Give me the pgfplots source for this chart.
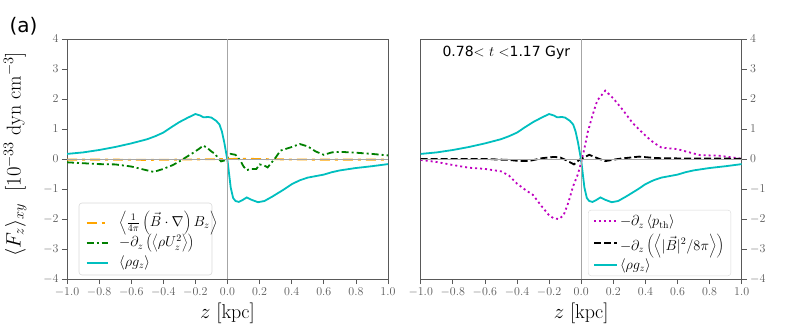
\documentclass[border=0pt]{standalone}
\usepackage{fontspec}
\usepackage{pgfplots}
\pgfplotsset{compat=1.18}
\newfontfamily\dejavu{DejaVu Sans}
\definecolor{mcyan}{rgb}{0,0.75,0.75}
\definecolor{morange}{rgb}{1,0.647,0}
\definecolor{mgreen}{rgb}{0,0.5,0}
\definecolor{mmag}{rgb}{0.75,0,0.75}
\definecolor{axgray}{rgb}{0.35,0.35,0.35}
\tikzset{
  sOr/.style={color=morange, line width=1.8pt, dash pattern=on 10pt off 5pt on 3pt off 5pt},
  sGr/.style={color=mgreen, line width=1.8pt, dash pattern=on 7pt off 3pt on 2pt off 3pt},
  sCy/.style={color=mcyan, solid, line width=1.8pt},
  sMa/.style={color=mmag, line width=1.8pt, dash pattern=on 2pt off 3pt},
  sBk/.style={color=black, line width=1.8pt, dash pattern=on 7pt off 3pt},
}
\pgfplotsset{
  legend image code/.code={\draw[#1] (0pt,0pt) -- (23pt,0pt);},
  myaxis/.style={
    scale only axis, width=321pt, height=240pt,
    xmin=-1, xmax=1, ymin=-4, ymax=4,
    xtick={-1,-0.8,...,1.01}, ytick={-4,-3,...,4},
    xticklabel style={/pgf/number format/.cd,fixed,fixed zerofill,precision=1},
    yticklabel style={/pgf/number format/.cd,int detect},
    tick label style={font=\fontsize{11.5}{13}\selectfont, text=axgray},
    axis line style={axgray, line width=0.8pt},
    major tick style={axgray, line width=0.8pt},
    major tick length=5pt, tick align=outside,
    xtick pos=bottom,
    label style={font=\fontsize{20}{24}\selectfont},
    xlabel={$z\;[\mathrm{kpc}]$},
    legend cell align=left,
    legend style={font=\fontsize{14}{17}\selectfont, draw=black!15, rounded corners=3pt, fill=white, row sep=3pt, inner xsep=5pt, inner ysep=3pt,
      /tikz/every even column/.append style={column sep=8pt}},
  },
}
\begin{document}
\begin{tikzpicture}
\path[use as bounding box] (0pt,0pt) rectangle (789pt,325pt);
\begin{axis}[myaxis, at={(67pt,46pt)}, anchor=south west, ytick pos=left,
  ylabel={$\langle F_z\rangle_{xy}\ \ [10^{-33}\ \mathrm{dyn}\ \mathrm{cm}^{-3}]$},
  ylabel style={at={(axis description cs:-0.115,0.52)}}]
\addplot[sOr] coordinates {
(-1.0,-0.02) (-0.7,-0.02) (-0.5,-0.03) (-0.3,-0.02) (-0.15,-0.01) (0.0,0.0) (0.1,0.01) (0.3,-0.01) (0.5,-0.02) (0.8,-0.02) (1.0,-0.02)};
\addplot[sGr] coordinates {
(-1.0,-0.11) (-0.9,-0.14) (-0.8,-0.17) (-0.7,-0.18) (-0.6,-0.25) (-0.5,-0.38) (-0.46,-0.43) (-0.4,-0.33) (-0.34,-0.20) (-0.3,-0.08) (-0.27,0.02) (-0.21,0.22) (-0.18,0.33) (-0.15,0.45) (-0.12,0.34) (-0.10,0.25) (-0.08,0.18) (-0.065,0.08) (-0.04,-0.08) (-0.02,-0.05) (0.0,0.05) (0.02,0.17) (0.05,0.14) (0.08,-0.05) (0.1,-0.25) (0.12,-0.37) (0.15,-0.33) (0.18,-0.33) (0.2,-0.18) (0.23,-0.22) (0.25,-0.28) (0.3,0.05) (0.33,0.28) (0.4,0.40) (0.45,0.50) (0.5,0.42) (0.55,0.25) (0.6,0.14) (0.65,0.22) (0.7,0.24) (0.8,0.21) (0.9,0.17) (1.0,0.12)};
\addplot[sCy] coordinates {
(-1.0,0.17) (-0.9,0.22) (-0.8,0.30) (-0.7,0.40) (-0.6,0.52) (-0.5,0.66) (-0.45,0.76) (-0.4,0.88) (-0.35,1.06) (-0.3,1.23) (-0.25,1.37) (-0.2,1.50) (-0.17,1.45) (-0.15,1.39) (-0.12,1.40) (-0.1,1.38) (-0.07,1.27) (-0.05,1.15) (-0.035,0.92) (-0.02,0.55) (-0.01,0.25) (0.0,-0.05) (0.01,-0.5) (0.02,-0.95) (0.035,-1.3) (0.05,-1.40) (0.07,-1.43) (0.09,-1.38) (0.12,-1.28) (0.15,-1.36) (0.19,-1.44) (0.23,-1.40) (0.28,-1.25) (0.35,-1.02) (0.40,-0.84) (0.45,-0.71) (0.5,-0.62) (0.6,-0.52) (0.65,-0.44) (0.7,-0.38) (0.8,-0.30) (0.9,-0.24) (1.0,-0.17)};
\draw[gray!70, line width=0.5pt] (axis cs:0,-4) -- (axis cs:0,4);
\draw[gray!70, line width=0.5pt] (axis cs:-1,0) -- (axis cs:1,0);
\end{axis}
% left legend
\draw[black!15, fill=white, rounded corners=3pt, line width=0.6pt] (79pt,50pt) rectangle (212pt,122pt);
\draw[sOr] (86.7pt,102.3pt) -- (108pt,102.3pt);
\draw[sGr] (86.7pt,81.7pt) -- (108pt,81.7pt);
\draw[sCy] (86.7pt,62.3pt) -- (108pt,62.3pt);
\node[anchor=west, inner sep=0pt, font=\fontsize{14}{17}\selectfont] at (119pt,102.3pt) {$\left\langle \frac{1}{4\pi}\left(\vec{B}\cdot\nabla\right)B_z\right\rangle$};
\node[anchor=west, inner sep=0pt, font=\fontsize{14}{17}\selectfont] at (119pt,81.7pt) {$-\partial_z\left(\left\langle\rho U_z^2\right\rangle\right)$};
\node[anchor=west, inner sep=0pt, font=\fontsize{14}{17}\selectfont] at (119pt,62.3pt) {$\langle\rho g_z\rangle$};
\begin{axis}[myaxis, at={(420.7pt,46pt)}, anchor=south west, ytick pos=right, yticklabel pos=right,
  legend style={at={(axis description cs:0.967,0.0125)}, anchor=south east}]
\addplot[sMa] coordinates {
(-1.0,-0.03) (-0.9,-0.10) (-0.8,-0.2) (-0.7,-0.29) (-0.6,-0.33) (-0.5,-0.41) (-0.45,-0.55) (-0.4,-0.82) (-0.35,-1.02) (-0.3,-1.2) (-0.25,-1.55) (-0.2,-1.88) (-0.17,-1.98) (-0.14,-2.00) (-0.11,-1.88) (-0.08,-1.45) (-0.05,-0.9) (-0.02,-0.5) (0.0,-0.1) (0.02,0.35) (0.04,0.88) (0.07,1.45) (0.1,1.95) (0.15,2.28) (0.2,2.02) (0.26,1.63) (0.32,1.20) (0.4,0.78) (0.45,0.55) (0.5,0.38) (0.6,0.33) (0.66,0.24) (0.74,0.13) (0.86,0.11) (1.0,0.01)};
\addlegendentry{$-\partial_z\left\langle p_{\mathrm{th}}\right\rangle$}
\addplot[sBk] coordinates {
(-1.0,0.0) (-0.6,0.0) (-0.45,-0.03) (-0.38,-0.07) (-0.32,-0.06) (-0.24,0.03) (-0.17,0.07) (-0.13,0.05) (-0.09,-0.05) (-0.045,-0.18) (-0.01,-0.02) (0.05,0.14) (0.1,0.03) (0.15,-0.07) (0.24,0.01) (0.36,0.08) (0.47,0.03) (0.6,0.02) (1.0,0.01)};
\addlegendentry{$-\partial_z\left(\left\langle|\vec{B}|^2/8\pi\right\rangle\right)$}
\addplot[sCy] coordinates {
(-1.0,0.17) (-0.9,0.22) (-0.8,0.30) (-0.7,0.40) (-0.6,0.52) (-0.5,0.66) (-0.45,0.76) (-0.4,0.88) (-0.35,1.06) (-0.3,1.23) (-0.25,1.37) (-0.2,1.50) (-0.17,1.45) (-0.15,1.39) (-0.12,1.40) (-0.1,1.38) (-0.07,1.27) (-0.05,1.15) (-0.035,0.92) (-0.02,0.55) (-0.01,0.25) (0.0,-0.05) (0.01,-0.5) (0.02,-0.95) (0.035,-1.3) (0.05,-1.40) (0.07,-1.43) (0.09,-1.38) (0.12,-1.28) (0.15,-1.36) (0.19,-1.44) (0.23,-1.40) (0.28,-1.25) (0.35,-1.02) (0.40,-0.84) (0.45,-0.71) (0.5,-0.62) (0.6,-0.52) (0.65,-0.44) (0.7,-0.38) (0.8,-0.30) (0.9,-0.24) (1.0,-0.17)};
\addlegendentry{$\langle\rho g_z\rangle$}
\draw[gray!70, line width=0.5pt] (axis cs:0,-4) -- (axis cs:0,4);
\draw[gray!70, line width=0.5pt] (axis cs:-1,0) -- (axis cs:1,0);
\end{axis}
\node[anchor=west, font=\dejavu\fontsize{20}{24}\selectfont] at (6pt,299pt) {(a)};
\node[anchor=west, font=\dejavu\fontsize{14}{16}\selectfont] at (439pt,272pt) {0.78$<$ $t$ $<$1.17 Gyr};
\end{tikzpicture}
\end{document}
